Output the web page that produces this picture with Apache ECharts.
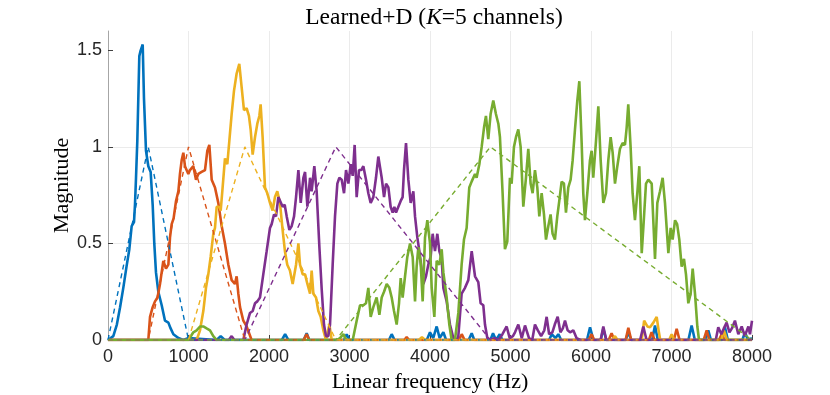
<!DOCTYPE html>
<html>
<head>
<meta charset="utf-8">
<script src="https://cdn.jsdelivr.net/npm/echarts@6/dist/echarts.min.js"></script>
<style>
  html, body { margin: 0; padding: 0; background: #fff; }
  #chart { width: 830px; height: 395px; }
</style>
</head>
<body>
<div id="chart"></div>
<script>
// learned filter magnitudes, [frequency Hz, magnitude]
const blueLearned = [
  [0,0],[66,0.02],[110,0.08],[150,0.17],[190,0.27],[230,0.38],[265,0.47],[294,0.59],[323,0.61],[335,0.70],
  [348,0.84],[364,1.03],[377,1.26],[389,1.47],[406,1.50],[431,1.53],[447,1.25],[472,0.98],[501,0.90],[530,0.87],
  [555,0.70],[575,0.50],[596,0.35],[625,0.25],[667,0.18],[708,0.10],[750,0.09],[778,0.06],[812,0.03],[874,0.01],
  [936,0],[1000,0.01],[1350,0],[1400,0.02],[1450,0],[2160,0],[2200,0.03],[2240,0],[2430,0],[2468,0.035],[2500,0],
  [2930,0],[2965,0.03],[3000,0],[3490,0],[3524,0.03],[3560,0],[3960,0],[4000,0.04],[4040,0.01],[4083,0.07],
  [4120,0.01],[4166,0.04],[4200,0],[4480,0],[4518,0.035],[4550,0],[4750,0],[4783,0.035],[4820,0],[4866,0.03],
  [4900,0],[5480,0],[5512,0.03],[5560,0.01],[5594,0.03],[5630,0],[5950,0],[5988,0.066],[6030,0],[6120,0],
  [6153,0.058],[6190,0],[6430,0],[6464,0.04],[6500,0],[6760,0],[6795,0.075],[6830,0],[7210,0],[7250,0.075],
  [7290,0],[7420,0],[7457,0.05],[7490,0],[7630,0],[7664,0.066],[7700,0],[7880,0],[7913,0.04],[7950,0],[8000,0.01]
];
const orangeLearned = [
  [0,0],[501,0],[522,0.12],[555,0.17],[584,0.20],[615,0.22],[646,0.29],[687,0.41],[720,0.37],[750,0.39],
  [770,0.53],[791,0.60],[815,0.63],[845,0.72],[874,0.77],[894,0.86],[915,0.93],[936,0.97],[956,0.90],[977,0.91],
  [998,0.86],[1018,0.88],[1060,0.90],[1093,0.83],[1122,0.86],[1163,0.87],[1205,0.88],[1234,0.98],[1259,1.01],
  [1288,0.83],[1329,0.79],[1370,0.71],[1412,0.59],[1453,0.50],[1495,0.39],[1536,0.31],[1577,0.29],[1598,0.33],
  [1619,0.24],[1640,0.17],[1681,0.10],[1722,0.07],[1784,0],[2430,0],[2468,0.03],[2500,0],[3680,0],[3710,0.015],
  [3740,0],[4360,0],[4394,0.03],[4430,0],[5970,0],[6008,0.03],[6040,0],[6220,0],[6256,0.035],[6290,0],[6430,0],
  [6464,0.063],[6500,0],[6720,0],[6753,0.04],[6790,0],[7030,0],[7064,0.058],[7100,0],[7400,0],[7437,0.05],
  [7470,0],[7590,0],[7623,0.03],[7660,0],[8000,0]
];
const yellowLearned = [
  [0,0],[1101,0],[1143,0.05],[1184,0.15],[1217,0.27],[1246,0.34],[1275,0.43],[1308,0.55],[1329,0.58],[1350,0.69],
  [1380,0.69],[1400,0.67],[1424,0.79],[1453,0.94],[1482,0.91],[1507,1.03],[1536,1.17],[1565,1.29],[1598,1.38],
  [1631,1.43],[1660,1.31],[1689,1.19],[1722,1.20],[1751,1.16],[1772,1.09],[1797,0.96],[1826,1.05],[1855,1.12],
  [1880,1.16],[1896,1.22],[1921,1.05],[1950,0.79],[1979,0.76],[2012,0.71],[2045,0.67],[2074,0.74],[2103,0.77],
  [2136,0.71],[2169,0.57],[2198,0.46],[2227,0.39],[2260,0.36],[2294,0.29],[2336,0.39],[2365,0.50],[2385,0.39],
  [2419,0.34],[2448,0.34],[2477,0.29],[2510,0.24],[2530,0.36],[2551,0.24],[2584,0.22],[2613,0.15],[2642,0.12],
  [2675,0.05],[2708,0],[2750,0.08],[2779,0],[3860,0],[3900,0.015],[3940,0],[6260,0],[6298,0.02],[6330,0],
  [6630,0],[6660,0.10],[6700,0.07],[6733,0.066],[6775,0.09],[6816,0.12],[6840,0.05],[6860,0],[6970,0],
  [7002,0.03],[7035,0],[7620,0],[7650,0.05],[7690,0],[8000,0]
];
const purpleLearned = [
  [0,0],[1500,0],[1536,0.02],[1570,0],[1681,0],[1722,0.08],[1764,0.14],[1797,0.15],[1826,0.19],[1855,0.20],
  [1888,0.22],[1929,0.34],[1971,0.46],[2012,0.58],[2033,0.60],[2062,0.65],[2087,0.64],[2116,0.74],[2137,0.74],
  [2170,0.69],[2195,0.70],[2220,0.64],[2253,0.57],[2282,0.59],[2311,0.64],[2336,0.74],[2365,0.88],[2394,0.71],
  [2427,0.84],[2448,0.87],[2477,0.69],[2510,0.84],[2530,0.77],[2563,0.90],[2592,0.77],[2626,0.48],[2655,0.26],
  [2683,0.08],[2708,0.02],[2737,0.02],[2758,0.08],[2791,0.39],[2820,0.64],[2849,0.81],[2874,0.84],[2903,0.83],
  [2932,0.76],[2957,0.88],[2986,0.81],[3015,0.91],[3040,0.85],[3064,1.01],[3089,0.74],[3118,0.88],[3147,0.88],
  [3172,0.90],[3205,0.83],[3234,0.76],[3263,0.71],[3296,0.74],[3329,0.84],[3358,0.95],[3379,0.96],[3400,0.84],
  [3429,0.74],[3454,0.81],[3483,0.79],[3511,0.69],[3536,0.66],[3557,0.69],[3578,0.66],[3607,0.69],[3636,0.72],
  [3660,0.74],[3677,0.88],[3702,1.02],[3731,0.83],[3760,0.71],[3793,0.77],[3814,0.64],[3843,0.53],[3868,0.46],
  [3897,0.36],[3917,0.29],[3950,0.33],[3979,0.39],[4008,0.43],[4033,0.55],[4062,0.46],[4091,0.55],[4116,0.46],
  [4145,0.42],[4166,0.27],[4207,0.20],[4248,0.08],[4290,0.01],[4331,0],[4352,0.02],[4393,0.24],[4435,0.27],
  [4476,0.31],[4518,0.46],[4559,0.33],[4600,0.30],[4629,0.19],[4662,0.18],[4683,0.08],[4712,0.01],[4745,0],
  [4800,0.01],[4850,0],[4900,0.03],[4952,0.07],[4990,0.01],[5030,0.02],[5056,0.04],[5097,0.08],[5140,0.01],
  [5180,0.075],[5230,0.01],[5270,0],[5304,0.08],[5340,0.05],[5380,0.02],[5420,0.05],[5449,0.12],[5480,0.03],
  [5520,0.04],[5550,0.08],[5586,0.12],[5620,0.04],[5650,0.06],[5677,0.10],[5710,0.05],[5740,0.04],[5780,0.05],
  [5820,0.01],[5870,0],[6120,0],[6153,0.07],[6190,0],[6610,0],[6650,0.07],[6690,0],[7550,0],[7581,0.066],
  [7620,0.03],[7650,0.06],[7685,0.09],[7720,0.04],[7750,0.06],[7788,0.10],[7830,0.03],[7872,0.07],[7910,0.02],
  [7955,0.07],[7975,0.03],[8000,0.10]
];
const greenLearned = [
  [0,0],[1000,0],[1018,0.01],[1060,0.04],[1101,0.05],[1143,0.07],[1184,0.07],[1225,0.06],[1267,0.05],[1308,0.02],
  [1350,0],[2841,0],[2882,0.01],[2924,0.03],[2960,0],[3040,0],[3089,0.10],[3131,0.18],[3172,0.18],[3205,0.19],
  [3234,0.27],[3263,0.12],[3296,0.17],[3337,0.22],[3371,0.13],[3400,0.22],[3429,0.25],[3462,0.29],[3495,0.27],
  [3524,0.22],[3553,0.15],[3586,0.08],[3615,0.19],[3636,0.32],[3660,0.22],[3690,0.33],[3718,0.43],[3752,0.50],
  [3785,0.43],[3814,0.20],[3834,0.38],[3855,0.48],[3884,0.40],[3909,0.20],[3938,0.53],[3967,0.62],[4000,0.50],
  [4021,0.27],[4054,0.12],[4083,0.41],[4116,0.39],[4145,0.47],[4166,0.35],[4207,0.22],[4240,0.08],[4269,0],
  [4310,0],[4352,0.14],[4393,0.39],[4422,0.52],[4455,0.58],[4488,0.79],[4517,0.82],[4559,0.86],[4579,0.84],
  [4613,0.91],[4642,1.00],[4671,1.10],[4695,1.16],[4724,1.04],[4753,1.17],[4786,1.24],[4819,1.17],[4849,1.12],
  [4869,1.05],[4902,0.76],[4931,0.47],[4960,0.51],[4993,0.84],[5014,0.81],[5043,1.00],[5068,1.05],[5097,1.09],
  [5126,1.00],[5159,0.69],[5192,0.84],[5221,0.99],[5250,0.81],[5275,0.76],[5304,0.88],[5333,0.79],[5358,0.64],
  [5387,0.76],[5416,0.65],[5441,0.52],[5470,0.59],[5498,0.65],[5523,0.55],[5552,0.52],[5581,0.64],[5606,0.72],
  [5635,0.82],[5664,0.81],[5689,0.66],[5718,0.79],[5747,0.83],[5772,0.93],[5801,1.09],[5830,1.24],[5855,1.34],
  [5884,1.02],[5904,0.76],[5925,0.62],[5954,0.76],[5987,0.93],[6008,0.98],[6028,0.84],[6062,1.03],[6091,1.21],
  [6120,0.93],[6153,0.71],[6186,0.76],[6215,0.93],[6244,1.05],[6269,0.97],[6298,0.81],[6327,0.90],[6360,0.99],
  [6393,1.02],[6422,1.01],[6443,1.10],[6463,1.22],[6492,1.00],[6517,0.76],[6546,0.62],[6575,0.76],[6600,0.90],
  [6630,0.45],[6650,0.58],[6683,0.81],[6712,0.83],[6754,0.81],[6795,0.42],[6824,0.71],[6857,0.77],[6890,0.84],
  [6919,0.71],[6961,0.45],[6990,0.58],[7014,0.52],[7044,0.62],[7070,0.60],[7097,0.52],[7126,0.38],[7155,0.42],
  [7180,0.34],[7209,0.19],[7238,0.24],[7263,0.37],[7292,0.24],[7321,0.07],[7342,0],[8000,0]
];

// triangular initial filters (dashed), corner points
const blueInit = [[0,0],[500,1],[1000,0],[8000,0]];
const orangeInit = [[0,0],[500,0],[1000,1],[1700,0],[8000,0]];
const yellowInit = [[0,0],[1000,0],[1700,1],[2830,0],[8000,0]];
const purpleInit = [[0,0],[1700,0],[2830,1],[4750,0],[8000,0]];
const greenInit = [[0,0],[2830,0],[4750,1],[8000,0]];

const xTicks = [0, 1000, 2000, 3000, 4000, 5000, 6000, 7000, 8000];
const yTicks = [0, 0.5, 1, 1.5];

const colors = ['#0072BD', '#D95319', '#EDB120', '#7E2F8E', '#77AC30'];
const learned = [blueLearned, orangeLearned, yellowLearned, purpleLearned, greenLearned];
const initial = [blueInit, orangeInit, yellowInit, purpleInit, greenInit];

const serif = '"Liberation Serif", "Times New Roman", serif';
const sans = '"Liberation Sans", Arial, sans-serif';

let series = [];
learned.forEach((d, i) => {
  series.push({
    type: 'line', data: d, showSymbol: false, silent: true,
    lineStyle: { color: colors[i], width: 2.6 }, z: 2
  });
});
initial.forEach((d, i) => {
  series.push({
    type: 'line', data: d, showSymbol: false, silent: true,
    lineStyle: { color: colors[i], width: 1.4, type: [5, 4] }, z: 3
  });
});

const chart = echarts.init(document.getElementById('chart'), null, { renderer: 'canvas' });
chart.setOption({
  animation: false,
  backgroundColor: '#fff',
  title: {
    text: 'Learned+D ({i|K}=5 channels)',
    left: 429, top: 1, textAlign: 'center',
    textStyle: {
      fontFamily: serif, fontSize: 23.5, fontWeight: 'normal', color: '#000',
      rich: { i: { fontFamily: serif, fontSize: 23.5, fontStyle: 'italic', color: '#000' } }
    }
  },
  grid: { left: 108, right: 78, top: 31, bottom: 55, outerBoundsMode: 'none' },
  xAxis: {
    type: 'value', min: 0, max: 8000, interval: 1000,
    name: 'Linear frequency (Hz)', nameLocation: 'middle', nameGap: 31, nameMoveOverlap: false,
    nameTextStyle: { fontFamily: serif, fontSize: 22, color: '#000' },
    axisLine: { show: true, lineStyle: { color: '#a6a6a6', width: 1 } },
    axisTick: { show: true, inside: true, length: 5, lineStyle: { color: '#404040' }, customValues: xTicks },
    axisLabel: {
      fontFamily: sans, fontSize: 18, color: '#262626', margin: 8, customValues: xTicks,
      formatter: v => String(v)
    },
    splitLine: { show: true, lineStyle: { color: '#ebebeb', width: 1 } }
  },
  yAxis: {
    type: 'value', min: 0, max: 1.6, interval: 0.5,
    name: 'Magnitude', nameLocation: 'middle', nameGap: 35, nameRotate: 90, nameMoveOverlap: false,
    nameTextStyle: { fontFamily: serif, fontSize: 22, color: '#000' },
    axisLine: { show: true, lineStyle: { color: '#a6a6a6', width: 1 } },
    axisTick: { show: true, inside: true, length: 5, lineStyle: { color: '#404040' }, customValues: yTicks },
    axisLabel: {
      fontFamily: sans, fontSize: 18, color: '#262626', margin: 6, customValues: yTicks,
      formatter: v => String(v)
    },
    splitLine: { show: true, showMaxLine: false, lineStyle: { color: '#ebebeb', width: 1 } }
  },
  series: series
});
</script>
</body>
</html>
